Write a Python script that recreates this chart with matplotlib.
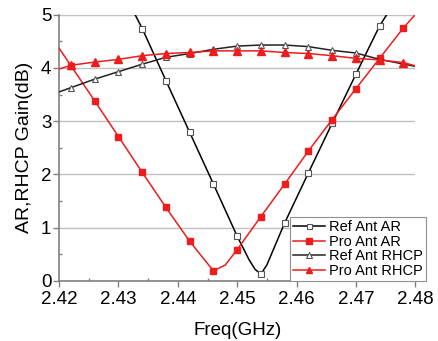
"""AR / RHCP gain vs frequency for reference and proposed antennas."""

import matplotlib

matplotlib.use("Agg")
import matplotlib.pyplot as plt  # noqa: E402
from matplotlib.ticker import MultipleLocator  # noqa: E402

plt.rcParams["font.family"] = ["Liberation Sans", "DejaVu Sans"]

# Ref Ant AR
ref_ar_f = [2.4328, 2.434, 2.438, 2.442, 2.446, 2.450, 2.452, 2.453, 2.454,
            2.455, 2.458, 2.462, 2.466, 2.470, 2.474, 2.4752]
ref_ar = [5.0, 4.74, 3.76, 2.79, 1.82, 0.84, 0.40, 0.22, 0.13,
          0.30, 1.09, 2.03, 2.96, 3.88, 4.79, 5.0]
ref_ar_marks = [1, 2, 3, 4, 5, 8, 10, 11, 12, 13, 14]

# Pro Ant AR
pro_ar_f = [2.420, 2.422, 2.426, 2.430, 2.434, 2.438, 2.442, 2.446, 2.448,
            2.450, 2.454, 2.458, 2.462, 2.466, 2.470, 2.474, 2.478, 2.480]
pro_ar = [4.37, 4.04, 3.38, 2.71, 2.04, 1.38, 0.745, 0.19, 0.30,
          0.59, 1.21, 1.82, 2.44, 3.03, 3.61, 4.18, 4.75, 5.0]
pro_ar_marks = [1, 2, 3, 4, 5, 6, 7, 9, 10, 11, 12, 13, 14, 15, 16]

# Ref Ant RHCP
ref_rhcp_f = [2.420, 2.422, 2.426, 2.430, 2.434, 2.438, 2.442, 2.446, 2.450,
              2.454, 2.458, 2.462, 2.466, 2.470, 2.474, 2.480]
ref_rhcp = [3.55, 3.63, 3.79, 3.93, 4.07, 4.20, 4.27, 4.35, 4.41,
            4.43, 4.43, 4.40, 4.33, 4.28, 4.16, 4.03]

# Pro Ant RHCP
pro_rhcp_f = [2.420, 2.422, 2.426, 2.430, 2.434, 2.438, 2.442, 2.446, 2.450,
              2.454, 2.458, 2.462, 2.466, 2.470, 2.474, 2.478, 2.480]
pro_rhcp = [3.98, 4.05, 4.11, 4.16, 4.23, 4.27, 4.29, 4.32, 4.32,
            4.32, 4.29, 4.27, 4.23, 4.18, 4.15, 4.10, 4.04]

fig = plt.figure(figsize=(4.38, 3.41), dpi=100)
ax = fig.add_axes([0.135, 0.176, 0.813, 0.781])

grey = "#808080"
ax.plot(ref_ar_f, ref_ar, color="black", lw=1.1, marker="s", ms=4.5,
        mfc="white", mec="#555555", mew=0.8, markevery=ref_ar_marks,
        label="Ref Ant AR", zorder=3)
ax.plot(pro_ar_f, pro_ar, color="#ee1c1c", lw=1.1, marker="s", ms=5,
        mfc="#ee1c1c", mec="#ee1c1c", markevery=pro_ar_marks,
        label="Pro Ant AR", zorder=3)
ax.plot(ref_rhcp_f, ref_rhcp, color="#222222", lw=1.1, marker="^", ms=5,
        mfc="white", mec="#555555", mew=0.8, markevery=list(range(1, 15)),
        label="Ref Ant RHCP", zorder=3)
ax.plot(pro_rhcp_f, pro_rhcp, color="#ee1c1c", lw=1.1, marker="^", ms=5.5,
        mfc="#ee1c1c", mec="#ee1c1c", markevery=list(range(1, 16)),
        label="Pro Ant RHCP", zorder=3)

ax.set_xlim(2.42, 2.48)
ax.set_ylim(0, 5)
ax.xaxis.set_major_locator(MultipleLocator(0.01))
ax.xaxis.set_minor_locator(MultipleLocator(0.005))
ax.yaxis.set_major_locator(MultipleLocator(1))
ax.yaxis.set_minor_locator(MultipleLocator(0.5))
ax.xaxis.set_major_formatter(plt.FuncFormatter(lambda v, p: f"{v:.2f}"))

ax.grid(True, axis="y", which="major", color="#c0c0c0", lw=1)
ax.set_axisbelow(True)
for side in ("top", "right"):
    ax.spines[side].set_visible(False)
for side in ("left", "bottom"):
    ax.spines[side].set_color(grey)
    ax.spines[side].set_linewidth(1.2)

ax.tick_params(which="major", direction="out", length=4, width=1,
               color=grey, labelsize=13.5, pad=1.5)
ax.tick_params(axis="x", which="major", pad=3)
ax.tick_params(which="minor", direction="in", length=2.5, width=1,
               color=grey)

ax.set_xlabel("Freq(GHz)", fontsize=13.5, labelpad=10)
ax.set_ylabel("AR,RHCP Gain(dB)", fontsize=14, labelpad=6)

leg = ax.legend(loc="lower right", bbox_to_anchor=(1.03, 0.0),
                borderaxespad=0, fontsize=10.5,
                handlelength=2.2, handletextpad=0.3, labelspacing=0.05,
                borderpad=0.2, fancybox=False, framealpha=1,
                edgecolor="#909090", markerscale=0.8)
leg.get_frame().set_linewidth(0.8)

fig.savefig("out.png", dpi=100)
